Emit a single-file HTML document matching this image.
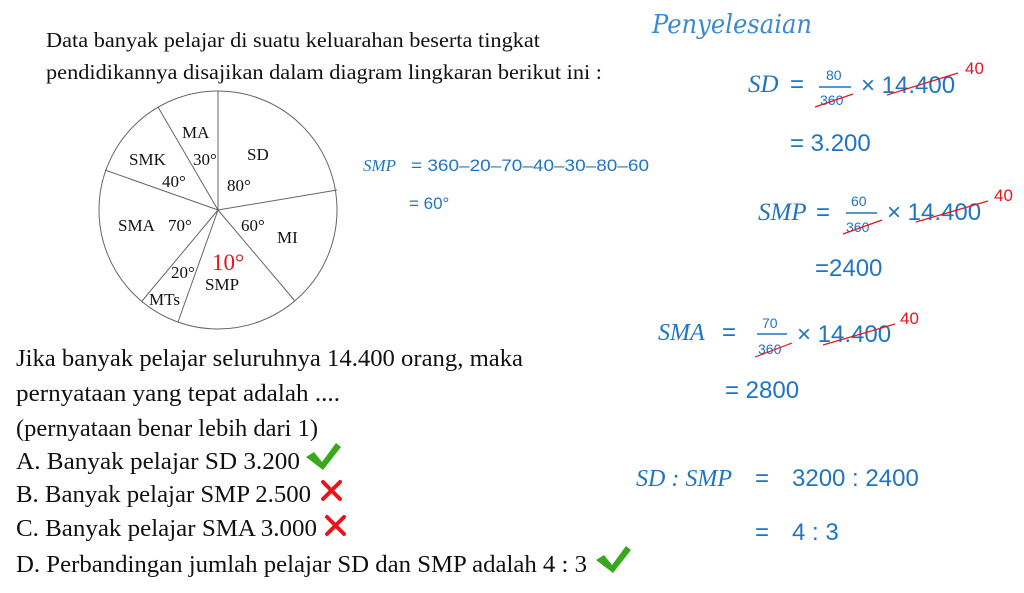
<!DOCTYPE html>
<html><head><meta charset="utf-8"><style>
html,body{margin:0;padding:0;background:#fff;width:1024px;height:593px;overflow:hidden}
svg{display:block}
.s{font-family:"Liberation Serif",serif;fill:#111}
.b{fill:#1f74c4;font-family:"Liberation Sans",sans-serif}
.bi{fill:#1f74c4;font-family:"Liberation Serif",serif;font-style:italic}
.r{fill:#e8141c;font-family:"Liberation Sans",sans-serif}
</style></head><body>
<svg width="1024" height="593" viewBox="0 0 1024 593" xmlns="http://www.w3.org/2000/svg">
<text class="s" x="46" y="47" font-size="21" textLength="494" lengthAdjust="spacingAndGlyphs">Data banyak pelajar di suatu keluarahan beserta tingkat</text>
<text class="s" x="46" y="79" font-size="21" textLength="556" lengthAdjust="spacingAndGlyphs">pendidikannya disajikan dalam diagram lingkaran berikut ini :</text>
<g stroke="#666" stroke-width="1" fill="none">
<circle cx="218" cy="210" r="119"/>
<line x1="218" y1="210" x2="218" y2="91"/>
<line x1="218" y1="210" x2="337" y2="190"/>
<line x1="218" y1="210" x2="295" y2="301"/>
<line x1="218" y1="210" x2="178" y2="322"/>
<line x1="218" y1="210" x2="142" y2="301"/>
<line x1="218" y1="210" x2="105" y2="170"/>
<line x1="218" y1="210" x2="158" y2="107"/>
</g>
<g class="s" font-size="17">
<text x="182" y="138">MA</text>
<text x="193" y="165">30°</text>
<text x="247" y="160">SD</text>
<text x="227" y="191">80°</text>
<text x="129" y="165">SMK</text>
<text x="162" y="187">40°</text>
<text x="118" y="231">SMA</text>
<text x="168" y="231">70°</text>
<text x="241" y="231">60°</text>
<text x="277" y="243">MI</text>
<text x="171" y="278">20°</text>
<text x="205" y="290">SMP</text>
<text x="149" y="305">MTs</text>
</g>
<text x="212" y="270" font-size="23" font-family="Liberation Serif,serif" fill="#e8141c">10°</text>
<text class="bi" x="363" y="171" font-size="17">SMP</text>
<text class="b" x="411" y="171" font-size="17" textLength="238" lengthAdjust="spacingAndGlyphs">= 360–20–70–40–30–80–60</text>
<text class="b" x="409" y="209" font-size="17">= 60°</text>
<g class="s" font-size="24">
<text x="16" y="366" textLength="507" lengthAdjust="spacingAndGlyphs">Jika banyak pelajar seluruhnya 14.400 orang, maka</text>
<text x="16" y="401" textLength="324" lengthAdjust="spacingAndGlyphs">pernyataan yang tepat adalah ....</text>
<text x="16" y="436" textLength="302" lengthAdjust="spacingAndGlyphs">(pernyataan benar lebih dari 1)</text>
<text x="16" y="469" textLength="284" lengthAdjust="spacingAndGlyphs">A.  Banyak pelajar SD 3.200</text>
<text x="16" y="502" textLength="295" lengthAdjust="spacingAndGlyphs">B.  Banyak pelajar SMP 2.500</text>
<text x="16" y="536" textLength="301" lengthAdjust="spacingAndGlyphs">C.  Banyak pelajar SMA 3.000</text>
<text x="16" y="572" textLength="571" lengthAdjust="spacingAndGlyphs">D.  Perbandingan jumlah pelajar SD dan SMP adalah 4 : 3</text>
</g>
<g fill="#3aa81c">
<path d="M306 457 L314 452 L322 462 L336 443 L341 447 L323 470 Z"/>
<path d="M596 560 L604 555 L612 565 L626 546 L631 550 L613 573 Z"/>
</g>
<g stroke="#e8141c" stroke-width="4" stroke-linecap="round">
<line x1="323" y1="482" x2="340" y2="499"/><line x1="340" y1="482" x2="323" y2="499"/>
<line x1="327" y1="517" x2="344" y2="534"/><line x1="344" y1="517" x2="327" y2="534"/>
</g>
<text x="652" y="33" font-size="26" font-family="DejaVu Serif,serif" font-style="italic" fill="#3a8ad0" textLength="160" lengthAdjust="spacingAndGlyphs">Penyelesaian</text>
<text class="bi" x="748" y="92" font-size="25">SD</text>
<text class="b" x="790" y="92" font-size="24">=</text>
<text class="b" x="826" y="80" font-size="14">80</text>
<line x1="819" y1="87" x2="851" y2="87" stroke="#1f74c4" stroke-width="1.5"/>
<text class="b" x="820" y="105" font-size="14">360</text>
<line x1="815" y1="107" x2="853" y2="94" stroke="#e8141c" stroke-width="1.2"/>
<text class="b" x="861" y="93" font-size="24">× 14.400</text>
<line x1="887" y1="95" x2="958" y2="73" stroke="#e8141c" stroke-width="1.2"/>
<text class="r" x="965" y="74" font-size="17">40</text>
<text class="b" x="790" y="151" font-size="24">=  3.200</text>
<text class="bi" x="758" y="220" font-size="25">SMP</text>
<text class="b" x="816" y="220" font-size="24">=</text>
<text class="b" x="851" y="206" font-size="14">60</text>
<line x1="846" y1="213" x2="877" y2="213" stroke="#1f74c4" stroke-width="1.5"/>
<text class="b" x="846" y="232" font-size="14">360</text>
<line x1="843" y1="234" x2="882" y2="220" stroke="#e8141c" stroke-width="1.2"/>
<text class="b" x="887" y="220" font-size="24">× 14.400</text>
<line x1="916" y1="222" x2="988" y2="201" stroke="#e8141c" stroke-width="1.2"/>
<text class="r" x="994" y="201" font-size="17">40</text>
<text class="b" x="815" y="276" font-size="24">=2400</text>
<text class="bi" x="658" y="340" font-size="24">SMA</text>
<text class="b" x="722" y="340" font-size="24">=</text>
<text class="b" x="762" y="328" font-size="14">70</text>
<line x1="757" y1="334" x2="787" y2="334" stroke="#1f74c4" stroke-width="1.5"/>
<text class="b" x="758" y="354" font-size="14">360</text>
<line x1="755" y1="357" x2="792" y2="343" stroke="#e8141c" stroke-width="1.2"/>
<text class="b" x="797" y="342" font-size="24">× 14.400</text>
<line x1="823" y1="345" x2="895" y2="324" stroke="#e8141c" stroke-width="1.2"/>
<text class="r" x="900" y="324" font-size="17">40</text>
<text class="b" x="725" y="398" font-size="24">=  2800</text>
<text class="bi" x="636" y="486" font-size="24">SD : SMP</text>
<text class="b" x="755" y="486" font-size="24">=</text>
<text class="b" x="792" y="486" font-size="24">3200 : 2400</text>
<text class="b" x="755" y="540" font-size="24">=</text>
<text class="b" x="792" y="540" font-size="24">4  : 3</text>
</svg>
</body></html>
